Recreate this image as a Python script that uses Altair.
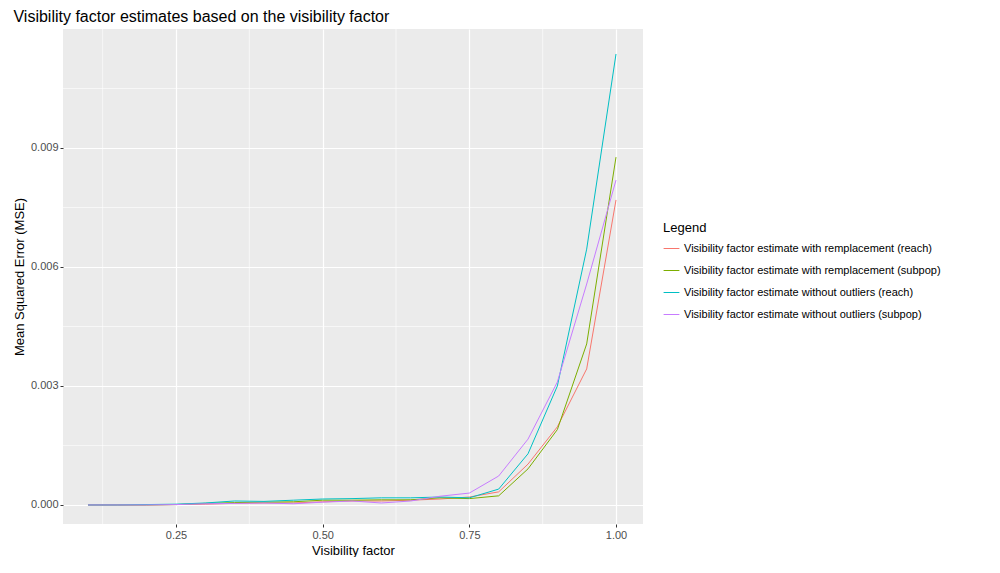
import altair as alt
import pandas as pd

x_vals = [0.10, 0.15, 0.20, 0.25, 0.30, 0.35, 0.40, 0.45, 0.50, 0.55, 0.60, 0.65, 0.70, 0.75, 0.80, 0.85, 0.90, 0.95, 1.00]

series_names = [
    "Visibility factor estimate with remplacement (reach)",
    "Visibility factor estimate with remplacement (subpop)",
    "Visibility factor estimate without outliers (reach)",
    "Visibility factor estimate without outliers (subpop)",
]
colors = ["#F8766D", "#7CAE00", "#00BFC4", "#C77CFF"]

red = [0.0, 0.0, 0.0, 0.00001, 0.00002, 0.00004, 0.00005, 0.00005, 0.00008, 0.0001, 0.0001, 0.00012, 0.00015, 0.0002, 0.00033, 0.00103, 0.00197, 0.00343, 0.00769]
green = [0.0, 0.0, 0.0, 0.00001, 0.00004, 0.00006, 0.00007, 0.00008, 0.00012, 0.00012, 0.00013, 0.00013, 0.00018, 0.00016, 0.00023, 0.00091, 0.0019, 0.00406, 0.00877]
cyan = [0.0, 0.0, 0.00001, 0.00002, 0.00005, 0.0001, 0.00009, 0.00012, 0.00015, 0.00016, 0.00018, 0.00018, 0.0002, 0.00018, 0.0004, 0.00129, 0.0030, 0.00645, 0.01137]
purple = [0.0, 0.0, 0.0, 0.00001, 0.00003, 0.00004, 0.00005, 0.00003, 0.00007, 0.0001, 0.00005, 0.0001, 0.00022, 0.0003, 0.00073, 0.00166, 0.0031, 0.00557, 0.00819]

x_minor = [0.125, 0.375, 0.625, 0.875]
y_minor = [0.0015, 0.0045, 0.0075, 0.0105]

rows = []
for name, vals in zip(series_names, [red, green, cyan, purple]):
    for x, v in zip(x_vals, vals):
        rows.append({"x": x, "mse": v, "Legend": name})
df = pd.DataFrame(rows)

x_scale = alt.Scale(domain=[0.0574, 1.046], nice=False, zero=False)
y_scale = alt.Scale(domain=[-0.00048, 0.0120], nice=False, zero=False)

minor_x = alt.Chart(pd.DataFrame({"x": x_minor})).mark_rule(color="white", strokeWidth=0.6).encode(
    x=alt.X("x:Q", scale=x_scale)
)
minor_y = alt.Chart(pd.DataFrame({"y": y_minor})).mark_rule(color="white", strokeWidth=0.6).encode(
    y=alt.Y("y:Q", scale=y_scale)
)

lines = alt.Chart(df).mark_line(strokeWidth=1).encode(
    x=alt.X("x:Q", scale=x_scale, title="Visibility factor",
            axis=alt.Axis(values=[0.25, 0.5, 0.75, 1.0], format=".2f")),
    y=alt.Y("mse:Q", scale=y_scale, title="Mean Squared Error (MSE)",
            axis=alt.Axis(values=[0.0, 0.003, 0.006, 0.009], format=".3f")),
    stroke=alt.Stroke("Legend:N", scale=alt.Scale(domain=series_names, range=colors),
                      legend=alt.Legend(title="Legend", symbolType="stroke", symbolStrokeWidth=1,
                                        symbolSize=250, orient="none", legendX=600, legendY=193)),
)

chart = (
    alt.layer(minor_x, minor_y, lines)
    .properties(width=580, height=495,
                title=alt.TitleParams("Visibility factor estimates based on the visibility factor",
                                      anchor="start", fontSize=16, fontWeight="normal",
                                      font="Arial", color="black"),
                padding={"left": 5, "top": 0, "right": 5, "bottom": 0})
    .configure_view(fill="#EBEBEB", stroke=None)
    .configure_axis(gridColor="white", gridWidth=1.2, domain=False, tickColor="#333333",
                    tickSize=3, labelColor="#4D4D4D", labelFont="Arial", labelFontSize=11,
                    titleFont="Arial", titleFontSize=13, titleFontWeight="normal", titleColor="black")
    .configure_legend(labelFont="Arial", labelFontSize=11, titleFont="Arial", titleFontSize=13,
                      titleFontWeight="normal", labelLimit=400, rowPadding=8)
)

chart.save("out.html", embed_options={"renderer": "svg", "actions": False})
